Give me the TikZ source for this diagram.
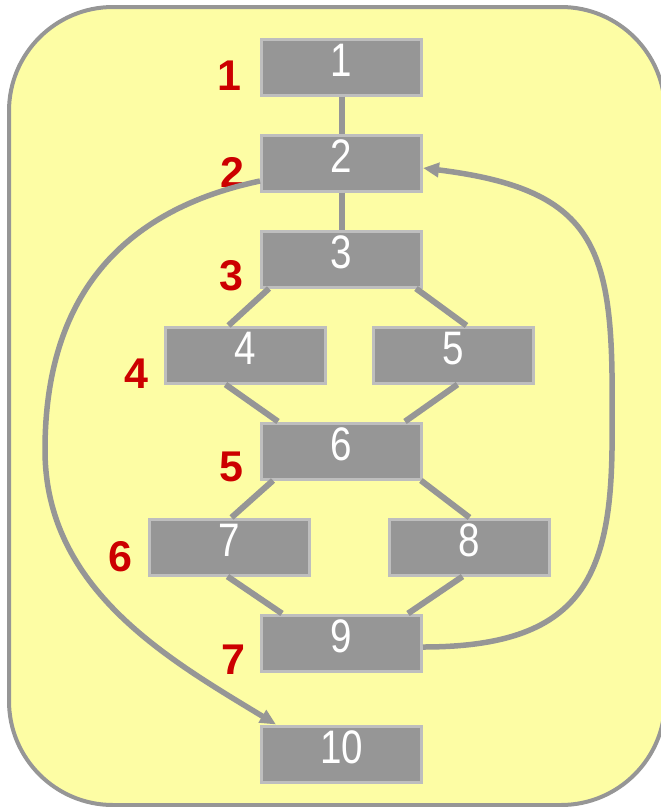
\documentclass[tikz,border=0pt]{standalone}
\usepackage{fontspec}
\setmainfont{Liberation Sans}
\newfontfamily\narrowsans{Liberation Sans}[FakeStretch=0.82]
\usepackage{tikz}
\usetikzlibrary{arrows.meta, positioning}
\usepackage{xcolor}
\definecolor{boxgray}{HTML}{969696}
\definecolor{boxedge}{HTML}{BEBEBE}
\definecolor{linegray}{HTML}{969696}
\definecolor{paleyellow}{HTML}{FDFDA4}
\definecolor{levelred}{HTML}{CC0000}
\tikzstyle{frame} = [
    draw=linegray, line width=4pt, fill=paleyellow, rounded corners=104pt
]
\tikzstyle{block} = [
    rectangle, minimum width=160pt, minimum height=56pt, inner sep=0pt,
    draw=boxedge, line width=3pt, fill=boxgray, text=white,
    font=\narrowsans\fontsize{47}{47}\selectfont, text height=33pt, text depth=14pt
]
\tikzstyle{level} = [
    inner sep=0pt, text=levelred, font=\bfseries\fontsize{43}{43}\selectfont
]
\tikzstyle{edge} = [draw=linegray, line width=6pt]
\tikzstyle{backarrow} = [draw=linegray, line width=5.5pt, -{Triangle[length=16pt, width=14pt]}]

\begin{document}
\begin{tikzpicture}[x=1pt, y=-1pt, node distance=37pt]
    \useasboundingbox (0,0) rectangle (661,807);
    \draw[frame] (9,7) rectangle (665,805);
    % Nodes
    \node[block] (n1) at (341.5,67) {1};
    \node[block, below=of n1] (n2) {2};
    \node[block, below=of n2] (n3) {3};
    \node[block, below=of n3, xshift=-96pt] (n4) {4};
    \node[block, below=of n3, xshift=112pt] (n5) {5};
    \node[block, below=of n3, yshift=-96pt] (n6) {6};
    \node[block, below=of n6, xshift=-112pt] (n7) {7};
    \node[block, below=of n6, xshift=128pt] (n8) {8};
    \node[block, below=of n6, yshift=-96pt] (n9) {9};
    \node[block, below=52pt of n9] (n10) {10};
    % Levels
    \node[level] (lev1) at (229,76) {1};
    \node[level] (lev2) at (232,172) {2};
    \node[level] (lev3) at (231,276) {3};
    \node[level] (lev4) at (136,374) {4};
    \node[level] (lev5) at (231,467) {5};
    \node[level] (lev6) at (120,557) {6};
    \node[level] (lev7) at (233,660) {7};
    % Edges
    \draw[edge] (n1) -- (n2);
    \draw[edge] (n2) -- (n3);
    \draw[edge] ([xshift=9pt]n3.south west) -- ([xshift=-17pt]n4.north);
    \draw[edge] ([xshift=-7pt]n3.south east) -- ([xshift=13pt]n5.north);
    \draw[edge] ([xshift=-20pt]n4.south) -- ([xshift=18pt]n6.north west);
    \draw[edge] ([xshift=4pt]n5.south) -- ([xshift=-18pt]n6.north east);
    \draw[edge] ([xshift=13pt]n6.south west) -- ([xshift=2pt]n7.north);
    \draw[edge] ([xshift=-2pt]n6.south east) -- (n8.north);
    \draw[edge] ([xshift=-2pt]n7.south) -- ([xshift=22pt]n9.north west);
    \draw[edge] ([xshift=-7pt]n8.south) -- ([xshift=-15pt]n9.north east);
    % Arrows
    \draw[backarrow] ([yshift=-18pt]n2.west) .. controls (100,215) and (45,320) .. (45,450)
        .. controls (45,590) and (170,660) .. ([xshift=16pt]n10.north west);
    \draw[backarrow] ([yshift=-4pt]n9.east) .. controls (590,647) and (614,570) .. (612,420)
        .. controls (614,250) and (600,190) .. ([yshift=-5pt]n2.east);
\end{tikzpicture}
\end{document}
